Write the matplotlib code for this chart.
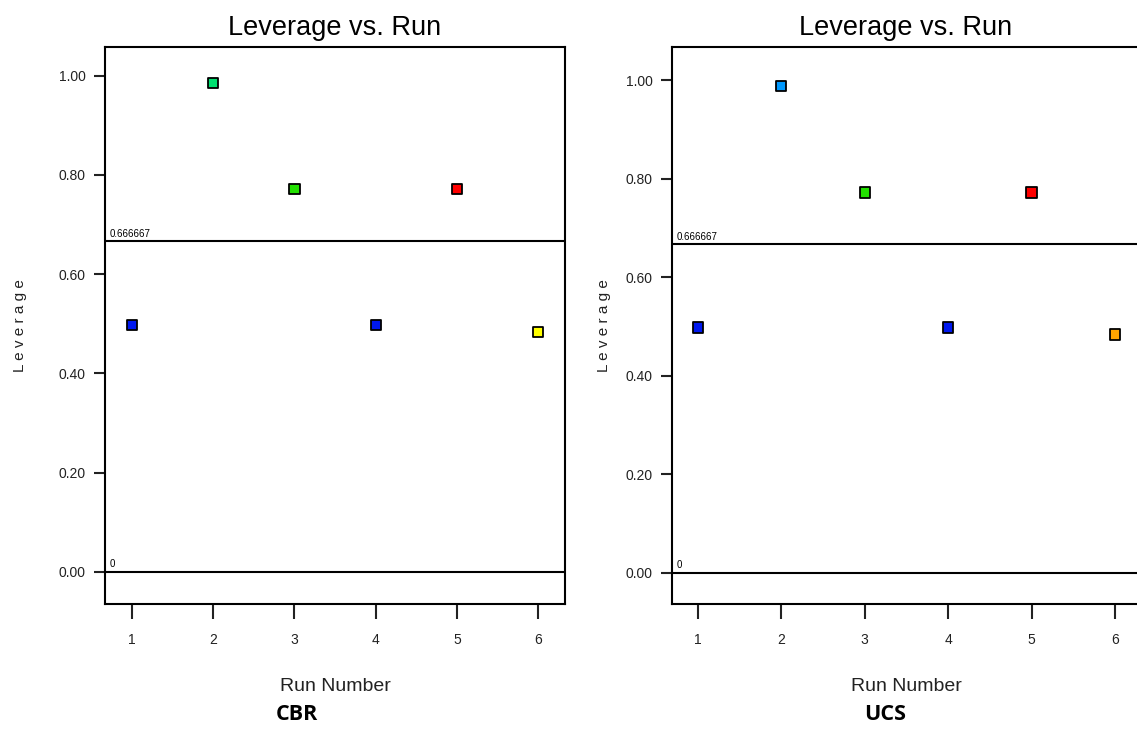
import matplotlib.pyplot as plt
import numpy as np

runs = [1, 2, 3, 4, 5, 6]
cbr_leverage = [0.498, 0.986, 0.772, 0.498, 0.772, 0.484]
ucs_leverage = [0.498, 0.988, 0.772, 0.498, 0.772, 0.484]
cbr_colors = ['#0018f0', '#00e070', '#22e000', '#0018f0', '#ff0000', '#ffff00']
ucs_colors = ['#0018f0', '#0099ff', '#22e000', '#0018f0', '#ff0000', '#ffa500']
threshold = 0.666667
panel_names = ['CBR', 'UCS']

plt.rcParams['font.family'] = ['Liberation Sans', 'DejaVu Sans']

fig = plt.figure(figsize=(11.37, 7.29), dpi=100)

rects = [[0.0923, 0.1715, 0.4046, 0.764], [0.591, 0.1715, 0.4116, 0.764]]
xlims = [(0.667, 6.33), (0.69, 6.30)]
ylims = [(-0.065, 1.058), (-0.063, 1.067)]
ylabel_x = [-0.17, -0.13]
name_x = [0.417, 0.455]

for k, (vals, cols) in enumerate([(cbr_leverage, cbr_colors), (ucs_leverage, ucs_colors)]):
    ax = fig.add_axes(rects[k])
    ax.set_xlim(*xlims[k])
    ax.set_ylim(*ylims[k])

    ax.axhline(threshold, color='black', lw=1.5)
    ax.axhline(0, color='black', lw=1.5)
    ax.text(xlims[k][0] + 0.06, threshold + 0.005, '0.666667', fontsize=7,
            ha='left', va='bottom')
    ax.text(xlims[k][0] + 0.06, 0.005, '0', fontsize=7, ha='left', va='bottom')

    ax.scatter(runs, vals, marker='s', s=55, c=cols, edgecolors='black',
               linewidths=1.3, zorder=3)

    ax.set_xticks(runs)
    ax.set_yticks([0.0, 0.2, 0.4, 0.6, 0.8, 1.0])
    ax.set_yticklabels(['0.00', '0.20', '0.40', '0.60', '0.80', '1.00'])
    ax.tick_params(axis='both', labelsize=10, colors='#222222', width=1.5)
    ax.tick_params(axis='x', length=11, pad=10)
    ax.tick_params(axis='y', length=8, pad=6)
    for sp in ax.spines.values():
        sp.set_linewidth(1.5)

    ax.set_title('Leverage vs. Run', fontsize=19.5, pad=9)
    ax.set_xlabel('Run Number', fontsize=14, labelpad=22, color='#222222')
    ax.set_ylabel('L e v e r a g e', fontsize=11, color='#222222')
    ax.yaxis.set_label_coords(ylabel_x[k], 0.5)

    # panel name below the x label
    ax.text(name_x[k], -0.199, panel_names[k], transform=ax.transAxes,
            fontsize=15.5, fontweight='bold', family='Open Sans',
            ha='center', va='center')

fig.savefig('out.png', dpi=100)
